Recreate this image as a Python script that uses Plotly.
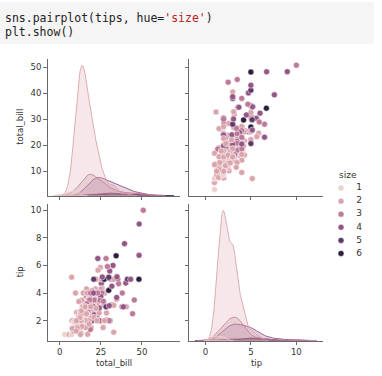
import numpy as np
import plotly.graph_objects as go

# ---- data (seaborn "tips": total_bill, tip, size) ----
total_bill = [16.99, 10.34, 21.01, 23.68, 24.59, 25.29, 8.77, 26.88, 15.04, 14.78, 10.27, 35.26, 15.42, 18.43, 14.83, 21.58,
              10.33, 16.29, 16.97, 20.65, 17.92, 20.29, 15.77, 39.42, 19.82, 17.81, 13.37, 12.69, 21.7, 19.65, 9.55, 18.35,
              15.06, 20.69, 17.78, 24.06, 16.31, 16.93, 18.69, 31.27, 16.04, 17.46, 13.94, 9.68, 30.4, 18.29, 22.23, 32.4,
              28.55, 18.04, 12.54, 10.29, 34.81, 9.94, 25.56, 19.49, 38.01, 26.41, 11.24, 48.27, 20.29, 13.81, 11.02, 18.29,
              17.59, 20.08, 16.45, 3.07, 20.23, 15.01, 12.02, 17.07, 26.86, 25.28, 14.73, 10.51, 17.92, 27.2, 22.76, 17.29,
              19.44, 16.66, 10.07, 32.68, 15.98, 34.83, 13.03, 18.28, 24.71, 21.16, 28.97, 22.49, 5.75, 16.32, 22.75, 40.17,
              27.28, 12.03, 21.01, 12.46, 11.35, 15.38, 44.3, 22.42, 20.92, 15.36, 20.49, 25.21, 18.24, 14.31, 14.0, 7.25,
              38.07, 23.95, 25.71, 17.31, 29.93, 10.65, 12.43, 24.08, 11.69, 13.42, 14.26, 15.95, 12.48, 29.8, 8.52, 14.52,
              11.38, 22.82, 19.08, 20.27, 11.17, 12.26, 18.26, 8.51, 10.33, 14.15, 16.0, 13.16, 17.47, 34.3, 41.19, 27.05,
              16.43, 8.35, 18.64, 11.87, 9.78, 7.51, 14.07, 13.13, 17.26, 24.55, 19.77, 29.85, 48.17, 25.0, 13.39, 16.49,
              21.5, 12.66, 16.21, 13.81, 17.51, 24.52, 20.76, 31.71, 10.59, 10.63, 50.81, 15.81, 7.25, 31.85, 16.82, 32.9,
              17.89, 14.48, 9.6, 34.63, 34.65, 23.33, 45.35, 23.17, 40.55, 20.69, 20.9, 30.46, 18.15, 23.1, 15.69, 19.81,
              28.44, 15.48, 16.58, 7.56, 10.34, 43.11, 13.0, 13.51, 18.71, 12.74, 13.0, 16.4, 20.53, 16.47, 26.59, 38.73,
              24.27, 12.76, 30.06, 25.89, 48.33, 13.27, 28.17, 12.9, 28.15, 11.59, 7.74, 30.14, 12.16, 13.42, 8.58, 15.98,
              13.42, 16.27, 10.09, 20.45, 13.28, 22.12, 24.01, 15.69, 11.61, 10.77, 15.53, 10.07, 12.6, 32.83, 35.83, 29.03,
              27.18, 22.67, 17.82, 18.78]
tip = [1.01, 1.66, 3.5, 3.31, 3.61, 4.71, 2.0, 3.12, 1.96, 3.23, 1.71, 5.0, 1.57, 3.0, 3.02, 3.92,
       1.67, 3.71, 3.5, 3.35, 4.08, 2.75, 2.23, 7.58, 3.18, 2.34, 2.0, 2.0, 4.3, 3.0, 1.45, 2.5,
       3.0, 2.45, 3.27, 3.6, 2.0, 3.07, 2.31, 5.0, 2.24, 2.54, 3.06, 1.32, 5.6, 3.0, 5.0, 6.0,
       2.05, 3.0, 2.5, 2.6, 5.2, 1.56, 4.34, 3.51, 3.0, 1.5, 1.76, 6.73, 3.21, 2.0, 1.98, 3.76,
       2.64, 3.15, 2.47, 1.0, 2.01, 2.09, 1.97, 3.0, 3.14, 5.0, 2.2, 1.25, 3.08, 4.0, 3.0, 2.71,
       3.0, 3.4, 1.83, 5.0, 2.03, 5.17, 2.0, 4.0, 5.85, 3.0, 3.0, 3.5, 1.0, 4.3, 3.25, 4.73,
       4.0, 1.5, 3.0, 1.5, 2.5, 3.0, 2.5, 3.48, 4.08, 1.64, 4.06, 4.29, 3.76, 4.0, 3.0, 1.0,
       4.0, 2.55, 4.0, 3.5, 5.07, 1.5, 1.8, 2.92, 2.31, 1.68, 2.5, 2.0, 2.52, 4.2, 1.48, 2.0,
       2.0, 2.18, 1.5, 2.83, 1.5, 2.0, 3.25, 1.25, 2.0, 2.0, 2.0, 2.75, 3.5, 6.7, 5.0, 5.0,
       2.3, 1.5, 1.36, 1.63, 1.73, 2.0, 2.5, 2.0, 2.74, 2.0, 2.0, 5.14, 5.0, 3.75, 2.61, 2.0,
       3.5, 2.5, 2.0, 2.0, 3.0, 3.48, 2.24, 4.5, 1.61, 2.0, 10.0, 3.16, 5.15, 3.18, 4.0, 3.11,
       2.0, 2.0, 4.0, 3.55, 3.68, 5.65, 3.5, 6.5, 3.0, 5.0, 3.5, 2.0, 3.5, 4.0, 1.5, 4.19,
       2.56, 2.02, 4.0, 1.44, 2.0, 5.0, 2.0, 2.0, 4.0, 2.01, 2.0, 2.5, 4.0, 3.23, 3.41, 3.0,
       2.03, 2.23, 2.0, 5.16, 9.0, 2.5, 6.5, 1.1, 3.0, 1.5, 1.44, 3.09, 2.2, 3.48, 1.92, 3.0,
       1.58, 2.5, 2.0, 3.0, 2.72, 2.88, 2.0, 3.0, 3.39, 1.47, 3.0, 1.25, 1.0, 1.17, 4.67, 5.92,
       2.0, 2.0, 1.75, 3.0]
size = [2, 3, 3, 2, 4, 4, 2, 4, 2, 2, 2, 4, 2, 4, 2, 2,
        3, 3, 3, 3, 2, 2, 2, 4, 2, 4, 2, 2, 2, 2, 2, 4,
        2, 4, 2, 3, 3, 3, 3, 3, 3, 2, 2, 2, 4, 2, 2, 4,
        3, 2, 2, 2, 4, 2, 4, 2, 4, 2, 2, 4, 2, 2, 2, 4,
        3, 3, 2, 1, 2, 2, 2, 3, 2, 2, 2, 2, 2, 4, 2, 2,
        2, 2, 1, 2, 2, 4, 2, 2, 2, 2, 2, 2, 2, 2, 2, 4,
        2, 2, 2, 2, 2, 2, 3, 2, 2, 2, 2, 2, 2, 2, 2, 1,
        3, 2, 3, 2, 4, 2, 2, 4, 2, 2, 2, 2, 2, 6, 2, 2,
        2, 3, 2, 2, 2, 2, 2, 2, 2, 2, 2, 2, 2, 6, 5, 6,
        2, 2, 3, 2, 2, 2, 2, 2, 3, 4, 4, 5, 6, 4, 2, 4,
        4, 2, 3, 2, 2, 3, 2, 4, 2, 2, 3, 2, 2, 2, 2, 2,
        2, 2, 2, 2, 4, 2, 3, 4, 2, 5, 3, 5, 3, 3, 2, 2,
        2, 2, 2, 2, 2, 4, 2, 2, 3, 2, 2, 2, 4, 3, 3, 4,
        2, 2, 3, 4, 4, 2, 3, 2, 5, 2, 2, 4, 2, 2, 1, 3,
        2, 2, 2, 4, 2, 2, 4, 3, 2, 2, 2, 2, 2, 2, 3, 3,
        2, 2, 2, 2]
size_levels = [1, 2, 3, 4, 5, 6]
variables = ["total_bill", "tip"]
bill_ticks_step = 25
tip_ticks_step = 5
bill_row_step = 10
tip_row_step = 2
code_line1 = "sns.pairplot(tips, hue=<span style=\"color:#BA2121\">'size'</span>)"
code_line2 = "plt.show()"

W, H = 382, 376
FONT = "DejaVu Sans"
TXT = "#333333"
AX = "#6a6a6a"
FS = 8.5


def px_x(p):
    return p / W


def px_y(p):
    return 1 - p / H


# ---- seaborn default cubehelix ("ch:") colors ----
def cubehelix(x, start=0.0, rot=0.4, gamma=1.0, hue=0.8):
    xg = x ** gamma
    a = hue * xg * (1 - xg) / 2
    phi = 2 * np.pi * (start / 3 + rot * x)
    r = xg + a * (-0.14861 * np.cos(phi) + 1.78277 * np.sin(phi))
    g = xg + a * (-0.29227 * np.cos(phi) - 0.90649 * np.sin(phi))
    b = xg + a * (1.97294 * np.cos(phi))
    return tuple(int(round(255 * min(max(c, 0), 1))) for c in (r, g, b))


lo, hi = min(size_levels), max(size_levels)
level_rgb = {s: cubehelix(0.85 + (0.15 - 0.85) * (s - lo) / (hi - lo)) for s in size_levels}


def rgb(s, a=None):
    r, g, b = level_rgb[s]
    return f"rgb({r},{g},{b})" if a is None else f"rgba({r},{g},{b},{a})"


tb = np.array(total_bill, float)
tp = np.array(tip, float)
sz = np.array(size)
N = len(sz)


def kde(vals):
    vals = np.asarray(vals, float)
    n = len(vals)
    bw = vals.std(ddof=1) * n ** (-1 / 5)
    grid = np.linspace(vals.min() - 3 * bw, vals.max() + 3 * bw, 200)
    d = np.exp(-0.5 * ((grid[:, None] - vals[None, :]) / bw) ** 2).sum(1) / (n * bw * np.sqrt(2 * np.pi))
    return grid, d * n / N


kdes = {}
for name, arr in (("total_bill", tb), ("tip", tp)):
    kdes[name] = {s: kde(arr[sz == s]) for s in size_levels}


def pad(lo_, hi_, m=0.05):
    span = hi_ - lo_
    return [lo_ - m * span, hi_ + m * span]


def xrange_for(name, arr):
    lo_ = min(arr.min(), *(g.min() for g, _ in kdes[name].values()))
    hi_ = max(arr.max(), *(g.max() for g, _ in kdes[name].values()))
    return pad(lo_, hi_)


x_bill = xrange_for("total_bill", tb)
x_tip = xrange_for("tip", tp)
y_bill = pad(tb.min(), tb.max())
y_tip = pad(tp.min(), tp.max())
dmax_bill = max(d.max() for _, d in kdes["total_bill"].values())
dmax_tip = max(d.max() for _, d in kdes["tip"].values())

col1 = [px_x(47.5), px_x(180)]
col2 = [px_x(189), px_x(323)]
row1 = [px_y(195.7), px_y(59)]
row2 = [px_y(340.7), px_y(204)]

fig = go.Figure()

# diagonal KDEs (on their own hidden axes, same placement as the diagonal panels)
for xa, ya, name in (("x6", "y5", "total_bill"), ("x7", "y6", "tip")):
    for s in size_levels[::-1]:
        g, d = kdes[name][s]
        fig.add_trace(go.Scatter(
            x=np.concatenate([g, g[::-1]]), y=np.concatenate([d, np.zeros_like(d)]),
            mode="lines", fill="toself", fillcolor=rgb(s, 0.25),
            line=dict(color=rgb(s), width=0.9), xaxis=xa, yaxis=ya,
            showlegend=False, hoverinfo="skip"))

point_colors = [rgb(s) for s in size]
# off-diagonal scatters
fig.add_trace(go.Scatter(x=tp, y=tb, mode="markers", xaxis="x2", yaxis="y2",
                         marker=dict(size=6, color=point_colors, line=dict(color="white", width=0.5)),
                         showlegend=False))
fig.add_trace(go.Scatter(x=tb, y=tp, mode="markers", xaxis="x3", yaxis="y3",
                         marker=dict(size=6, color=point_colors, line=dict(color="white", width=0.5)),
                         showlegend=False))
# empty traces so the diagonal panels' visible axes exist as subplots
fig.add_trace(go.Scatter(x=[None], y=[None], xaxis="x", yaxis="y", showlegend=False, hoverinfo="skip"))
fig.add_trace(go.Scatter(x=[None], y=[None], xaxis="x4", yaxis="y4", showlegend=False, hoverinfo="skip"))

# legend (drawn on hidden axes so the spacing matches)
fig.add_trace(go.Scatter(x=[11] * len(size_levels), y=size_levels, mode="markers", xaxis="x5", yaxis="y7",
                         marker=dict(size=6, color=[rgb(s) for s in size_levels], line=dict(color="white", width=0.5)),
                         showlegend=False, hoverinfo="skip"))
fig.add_trace(go.Scatter(x=[29] * len(size_levels), y=size_levels, mode="text", xaxis="x5", yaxis="y7",
                         text=[str(s) for s in size_levels], textposition="middle center",
                         textfont=dict(family=FONT, size=FS + 0.5, color=TXT),
                         showlegend=False, hoverinfo="skip"))


def axis(domain, rng, dtick, anchor, labels, **kw):
    d = dict(domain=domain, range=rng, dtick=dtick, tick0=0, anchor=anchor,
             showgrid=False, zeroline=False, showline=True, linecolor=AX, linewidth=1,
             ticks="outside", ticklen=3.5, tickwidth=1, tickcolor=AX,
             showticklabels=labels, tickfont=dict(family=FONT, size=FS, color=TXT))
    d.update(kw)
    return d


fig.update_layout(
    width=W, height=H, autosize=False,
    margin=dict(l=0, r=0, t=0, b=0, pad=0),
    paper_bgcolor="white", plot_bgcolor="rgba(0,0,0,0)",
    showlegend=False,
    xaxis=axis(col1, x_bill, bill_ticks_step, "y", False),
    xaxis2=axis(col2, x_tip, tip_ticks_step, "y2", False),
    xaxis3=axis(col1, x_bill, bill_ticks_step, "y3", True),
    xaxis4=axis(col2, x_tip, tip_ticks_step, "y4", True),
    yaxis=axis(row1, y_bill, bill_row_step, "x", True),
    yaxis2=axis(row1, y_bill, bill_row_step, "x2", False),
    yaxis3=axis(row2, y_tip, tip_row_step, "x3", True),
    yaxis4=axis(row2, y_tip, tip_row_step, "x4", False),
    xaxis6=dict(domain=col1, range=x_bill, anchor="y5", visible=False),
    yaxis5=dict(domain=row1, range=[0, 1.05 * dmax_bill], anchor="x6", visible=False),
    xaxis7=dict(domain=col2, range=x_tip, anchor="y6", visible=False),
    yaxis6=dict(domain=row2, range=[0, 1.05 * dmax_tip], anchor="x7", visible=False),
    xaxis5=dict(domain=[px_x(330), px_x(370)], range=[0, 40], visible=False, anchor="y7"),
    yaxis7=dict(domain=[px_y(260), px_y(181.5)], range=[6.5, 0.5], visible=False, anchor="x5"),
)

shapes = [dict(type="rect", xref="paper", yref="paper", x0=0, x1=px_x(374), y0=px_y(44), y1=px_y(2),
               fillcolor="#f5f5f5", line=dict(width=0), layer="below")]
fig.update_layout(shapes=shapes)

ann = []
code_font = dict(family="DejaVu Sans Mono", size=11.5, color="#222222")
ann.append(dict(text=code_line1, x=px_x(2.5), y=px_y(18.2), xref="paper", yref="paper",
                xanchor="left", yanchor="middle", showarrow=False, font=code_font))
ann.append(dict(text=code_line2, x=px_x(2.5), y=px_y(32.2), xref="paper", yref="paper",
                xanchor="left", yanchor="middle", showarrow=False, font=code_font))
lab_font = dict(family=FONT, size=FS, color=TXT)
ann.append(dict(text=variables[0], x=(col1[0] + col1[1]) / 2, y=px_y(363), xref="paper", yref="paper",
                xanchor="center", yanchor="middle", showarrow=False, font=lab_font))
ann.append(dict(text=variables[1], x=(col2[0] + col2[1]) / 2, y=px_y(362.5), xref="paper", yref="paper",
                xanchor="center", yanchor="middle", showarrow=False, font=lab_font))
ann.append(dict(text=variables[0], x=px_x(20.5), y=(row1[0] + row1[1]) / 2, xref="paper", yref="paper",
                xanchor="center", yanchor="middle", textangle=-90, showarrow=False, font=lab_font))
ann.append(dict(text=variables[1], x=px_x(20), y=(row2[0] + row2[1]) / 2, xref="paper", yref="paper",
                xanchor="center", yanchor="middle", textangle=-90, showarrow=False, font=lab_font))
ann.append(dict(text="size", x=px_x(336.5), y=px_y(174.5), xref="paper", yref="paper",
                xanchor="left", yanchor="middle", showarrow=False, font=dict(family=FONT, size=FS + 0.5, color=TXT)))
fig.update_layout(annotations=ann)

fig.write_html("out.html", config={"displayModeBar": False},
               post_script="document.body.style.margin='0';document.body.style.padding='0';")
